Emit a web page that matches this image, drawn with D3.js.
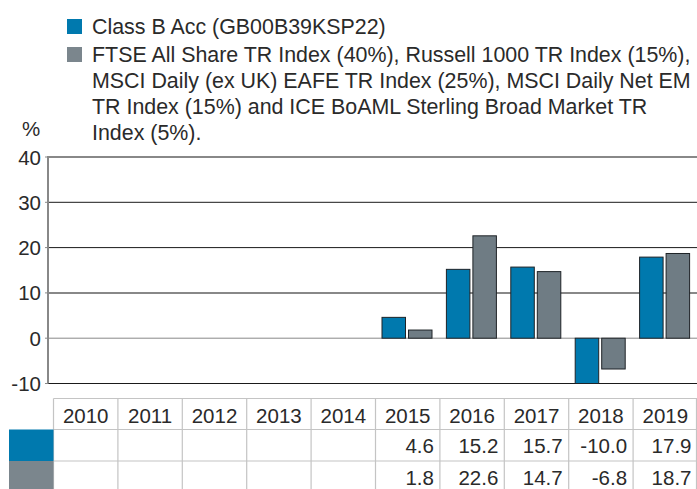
<!DOCTYPE html>
<html lang="en">
<head>
    <meta charset="UTF-8">
    <title> Discrete Performance </title>
    <script src="https://cdn.jsdelivr.net/npm/d3@7/dist/d3.min.js"></script>
    <style>
        body { margin: 0; background: #fff; }
        svg text { font-family: "Liberation Sans", Arial, sans-serif; fill: #2a2a2a; }
    </style>
</head>
<body>
<svg width="697" height="489"></svg>
<script>
    // data
    let years = ["2010","2011","2012","2013","2014","2015","2016","2017","2018","2019"]
    let fund = [null,null,null,null,null,4.6,15.2,15.7,-10.0,17.9]
    let bench = [null,null,null,null,null,1.8,22.6,14.7,-6.8,18.7]
    let yTicks = [40,30,20,10,0,-10]
    let legendLines = [
        ["Class B Acc (GB00B39KSP22)"],
        ["FTSE All Share TR Index (40%), Russell 1000 TR Index (15%),",
         "MSCI Daily (ex UK) EAFE TR Index (25%), MSCI Daily Net EM",
         "TR Index (15%) and ICE BoAML Sterling Broad Market TR",
         "Index (5%)."]
    ]
    let colors = ["#0079ae", "#6f7c84"]
    let swatchColors = ["#0079ae", "#7b868d"]

    let svg = d3.select('svg');
    let fs = 20.5, lfs = 21.4;

    let scaleX = d3.scaleBand().domain(years).range([53.5, 697.5])
    let scaleY = d3.scaleLinear().domain([-10, 40]).range([383.5, 157])

    // legend
    let ly = [18, 46]
    legendLines.forEach(function (lines, i) {
        svg.append('rect').attr('x', 67).attr('y', ly[i] + 1).attr('width', 15).attr('height', 15)
            .style('fill', swatchColors[i])
        lines.forEach(function (t, j) {
            svg.append('text').attr('x', 92).attr('y', ly[i] + 16 + j * 26)
                .style('font-size', lfs + 'px').text(t)
        })
    })

    svg.append('text').attr('x', 22).attr('y', 136).style('font-size', fs + 'px').text('%')

    // gridlines
    let gridStyle = {40: ['#888', 2], 30: ['#1a1a1a', 1], 20: ['#1a1a1a', 1], 10: ['#888', 2], 0: ['#888', 1], '-10': ['#1a1a1a', 1]}
    svg.append('g').selectAll('line').data(yTicks).join('line')
        .attr('x1', 48).attr('x2', 697)
        .attr('y1', d => scaleY(d)).attr('y2', d => scaleY(d))
        .style('stroke', d => gridStyle[d][0])
        .style('stroke-width', d => gridStyle[d][1])

    svg.append('line').attr('x1', 48).attr('x2', 48)
        .attr('y1', scaleY(40) - 1).attr('y2', scaleY(-10))
        .style('stroke', '#888').style('stroke-width', 2)

    svg.append('g').selectAll('line.tick').data(yTicks).join('line')
        .attr('x1', 45).attr('x2', 48)
        .attr('y1', d => scaleY(d)).attr('y2', d => scaleY(d))
        .style('stroke', '#888').style('stroke-width', 1)

    svg.append('g').selectAll('text').data(yTicks).join('text')
        .attr('x', 41).attr('y', d => scaleY(d) + 7.5)
        .attr('text-anchor', 'end')
        .style('font-size', fs + 'px')
        .text(d => d)

    // bars
    let bw = 23.5, gap = 3, off = 6.5
    let series = [fund, bench]
    series.forEach(function (vals, s) {
        let rows = years.map((y, i) => ({year: y, v: vals[i]})).filter(d => d.v !== null)
        svg.append('g').selectAll('rect').data(rows).join('rect')
            .attr('x', d => scaleX(d.year) + off + s * (bw + gap))
            .attr('y', d => scaleY(Math.max(0, d.v)))
            .attr('width', bw)
            .attr('height', d => Math.abs(scaleY(d.v) - scaleY(0)))
            .style('fill', colors[s])
            .style('stroke', '#1e2327')
            .style('stroke-width', 1)
    })

    // table
    let tTop = 398.5, rowH = [31, 31.5, 30]
    let rowY = [tTop, tTop + rowH[0], tTop + rowH[0] + rowH[1], 489]
    let tg = svg.append('g')
    tg.selectAll('line.v').data(years).join('line')
        .attr('x1', d => scaleX(d)).attr('x2', d => scaleX(d))
        .attr('y1', tTop).attr('y2', 489)
        .style('stroke', '#c4c4c4').style('stroke-width', 1.2)
    tg.append('line').attr('x1', 696.5).attr('x2', 696.5).attr('y1', tTop).attr('y2', 489)
        .style('stroke', '#c4c4c4').style('stroke-width', 1.2)
    ;[rowY[0], rowY[1], rowY[2]].forEach(function (y) {
        tg.append('line').attr('x1', scaleX(years[0])).attr('x2', 697).attr('y1', y).attr('y2', y)
            .style('stroke', '#c4c4c4').style('stroke-width', 1.2)
    })
    tg.selectAll('text.yr').data(years).join('text')
        .attr('x', d => scaleX(d) + scaleX.bandwidth() / 2)
        .attr('y', rowY[0] + 24)
        .attr('text-anchor', 'middle')
        .style('font-size', fs + 'px')
        .text(d => d)
    series.forEach(function (vals, s) {
        tg.append('rect').attr('x', 9).attr('y', rowY[s + 1]).attr('width', scaleX(years[0]) - 9)
            .attr('height', rowY[s + 2] - rowY[s + 1]).style('fill', swatchColors[s])
        let rows = years.map((y, i) => ({year: y, v: vals[i]})).filter(d => d.v !== null)
        tg.selectAll('text.v' + s).data(rows).join('text')
            .attr('x', d => scaleX(d.year) + scaleX.bandwidth() - 6)
            .attr('y', rowY[s + 1] + 23.5)
            .attr('text-anchor', 'end')
            .style('font-size', fs + 'px')
            .text(d => d.v.toFixed(1))
    })
</script>
</body>
</html>
